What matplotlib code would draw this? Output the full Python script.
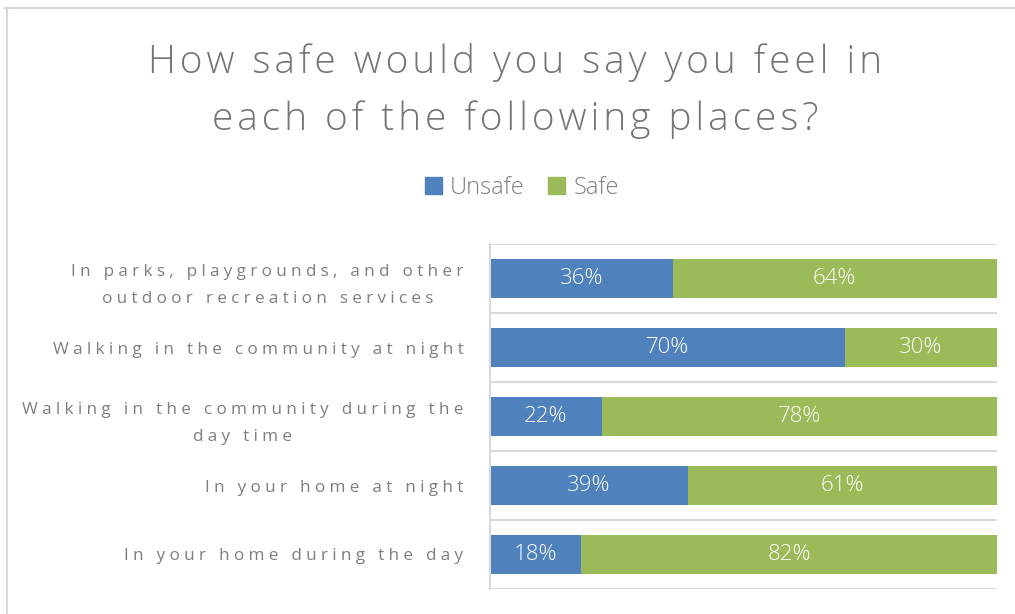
import matplotlib
matplotlib.use('Agg')
import matplotlib.pyplot as plt
from matplotlib.lines import Line2D
from matplotlib.patches import Patch
import numpy as np

categories = ["In parks, playgrounds, and other\noutdoor recreation services",
              "Walking in the community at night",
              "Walking in the community during the\nday time",
              "In your home at night",
              "In your home during the day"]
unsafe = [36, 70, 22, 39, 18]
safe = [64, 30, 78, 61, 82]
series_names = ["Unsafe", "Safe"]
title_lines = ["How safe would you say you feel in", "each of the following places?"]

BLUE = '#4F81BD'
GREEN = '#9BBB59'
GRID = '#D9D9D9'
TEXT = '#7F7F7F'
FONT = ['Open Sans', 'DejaVu Sans']

def spaced(s, gap):
    # fake character spacing by putting a fixed-width space between letters
    return '\n'.join(gap.join(line) for line in s.split('\n'))

fig = plt.figure(figsize=(10.15, 6.14), dpi=100)
ax = fig.add_axes([490/1015, 1-589/614, (997-490)/1015, (589-244)/614])

y = np.arange(len(categories))
h = 0.57
ax.barh(y, unsafe, height=h, color=BLUE, label=series_names[0])
ax.barh(y, safe, left=unsafe, height=h, color=GREEN, label=series_names[1])

for i in range(len(categories)):
    ax.text(unsafe[i]/2, y[i], f"{unsafe[i]}%", ha='center', va='center',
            color='white', fontsize=16, family=FONT, fontweight='light')
    ax.text(unsafe[i] + safe[i]/2, y[i], f"{safe[i]}%", ha='center', va='center',
            color='white', fontsize=16, family=FONT, fontweight='light')

ax.set_xlim(0, 100)
ax.set_ylim(len(categories) - 0.5, -0.5)
for b in np.arange(-0.5, len(categories), 1.0):
    ax.axhline(b, color=GRID, lw=1.5, zorder=0)
for s in ['top', 'right', 'bottom']:
    ax.spines[s].set_visible(False)
ax.spines['left'].set_color(GRID)
ax.spines['left'].set_linewidth(1.5)
ax.set_xticks([])
ax.set_yticks(y)
ax.set_yticklabels([spaced(c, '\u2005') for c in categories], family=FONT, fontsize=12.3,
                   color=TEXT, multialignment='center', linespacing=1.85)
ax.tick_params(axis='y', length=0, pad=19)

fig.text(515/1015, 1-73/614, spaced(title_lines[0], '\u200a'), ha='center', va='baseline',
         fontsize=28, color='#757575', family=FONT, fontweight='light')
fig.text(515/1015, 1-130/614, spaced(title_lines[1], '\u200a'), ha='center', va='baseline',
         fontsize=28, color='#757575', family=FONT, fontweight='light')

handles = [Patch(color=BLUE), Patch(color=GREEN)]
fig.legend(handles, series_names, loc='center', bbox_to_anchor=(522/1015, 1-188/614),
           ncol=2, frameon=False, prop={'family': FONT, 'size': 17, 'weight': 'light'},
           labelcolor=TEXT, handlelength=0.72, handleheight=0.72, handletextpad=0.34,
           columnspacing=1.0, borderpad=0, borderaxespad=0)

# chart frame
fig.add_artist(Line2D([4.5/1015, 1.0], [1-7.5/614, 1-7.5/614], color=GRID, lw=1.5))
fig.add_artist(Line2D([7/1015, 7/1015], [0, 1-7.5/614], color=GRID, lw=1.5))

fig.savefig('out.png', dpi=100)
